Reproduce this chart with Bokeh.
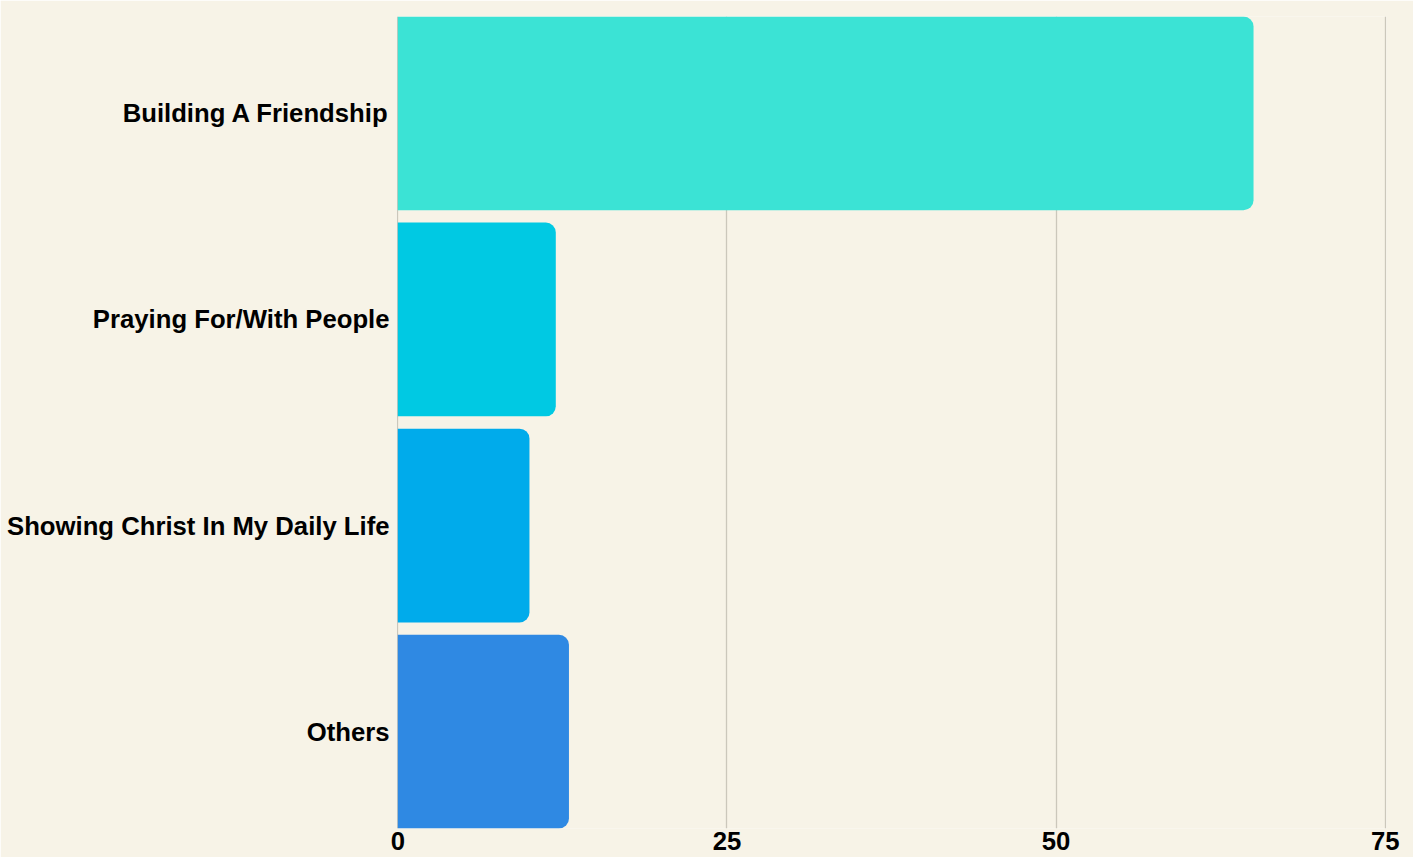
from bokeh.plotting import figure
from bokeh.models import FixedTicker, Range1d, ColumnDataSource
from bokeh.embed import file_html
from bokeh.resources import INLINE

categories = ["Building A Friendship", "Praying For/With People", "Showing Christ In My Daily Life", "Others"]
values = [65, 12, 10, 13]
colors = ["#3BE3D5", "#00C9E3", "#00ABEB", "#2F89E3"]
x_ticks = [0, 25, 50, 75]

positions = list(range(len(categories)))
src = ColumnDataSource(dict(y=positions, right=values, color=colors))

bg = "#F7F3E7"
p = figure(width=1413, height=857, output_backend="svg", toolbar_location=None,
           x_range=Range1d(-0.1, 75.1), y_range=Range1d(len(categories) - 0.53, -0.47),
           background_fill_color=bg, border_fill_color=bg, outline_line_color=None,
           min_border_left=396, min_border_top=16, min_border_right=27, min_border_bottom=29)

p.hbar(y="y", left=0, right="right", height=0.94, color="color", source=src,
       line_color=None, border_radius=(0, 10, 10, 0))

p.xaxis.ticker = FixedTicker(ticks=x_ticks)
p.yaxis.ticker = FixedTicker(ticks=positions)
p.yaxis.major_label_overrides = {i: c for i, c in enumerate(categories)}

for ax in (p.xaxis, p.yaxis):
    ax.axis_line_color = None
    ax.major_tick_line_color = None
    ax.minor_tick_line_color = None
    ax.major_tick_out = 0
    ax.major_tick_in = 0
    ax.major_label_text_font = "Liberation Sans"
    ax.major_label_text_font_style = "bold"
    ax.major_label_text_font_size = "25.7px"
    ax.major_label_text_color = "#000000"
p.xaxis.major_label_standoff = 3
p.yaxis.major_label_standoff = 7

p.ygrid.grid_line_color = None
p.xgrid.grid_line_color = "#CBC7BB"
p.xgrid.grid_line_width = 1.3
p.xgrid.level = "underlay"

open("out.html", "w").write(file_html(p, INLINE))
